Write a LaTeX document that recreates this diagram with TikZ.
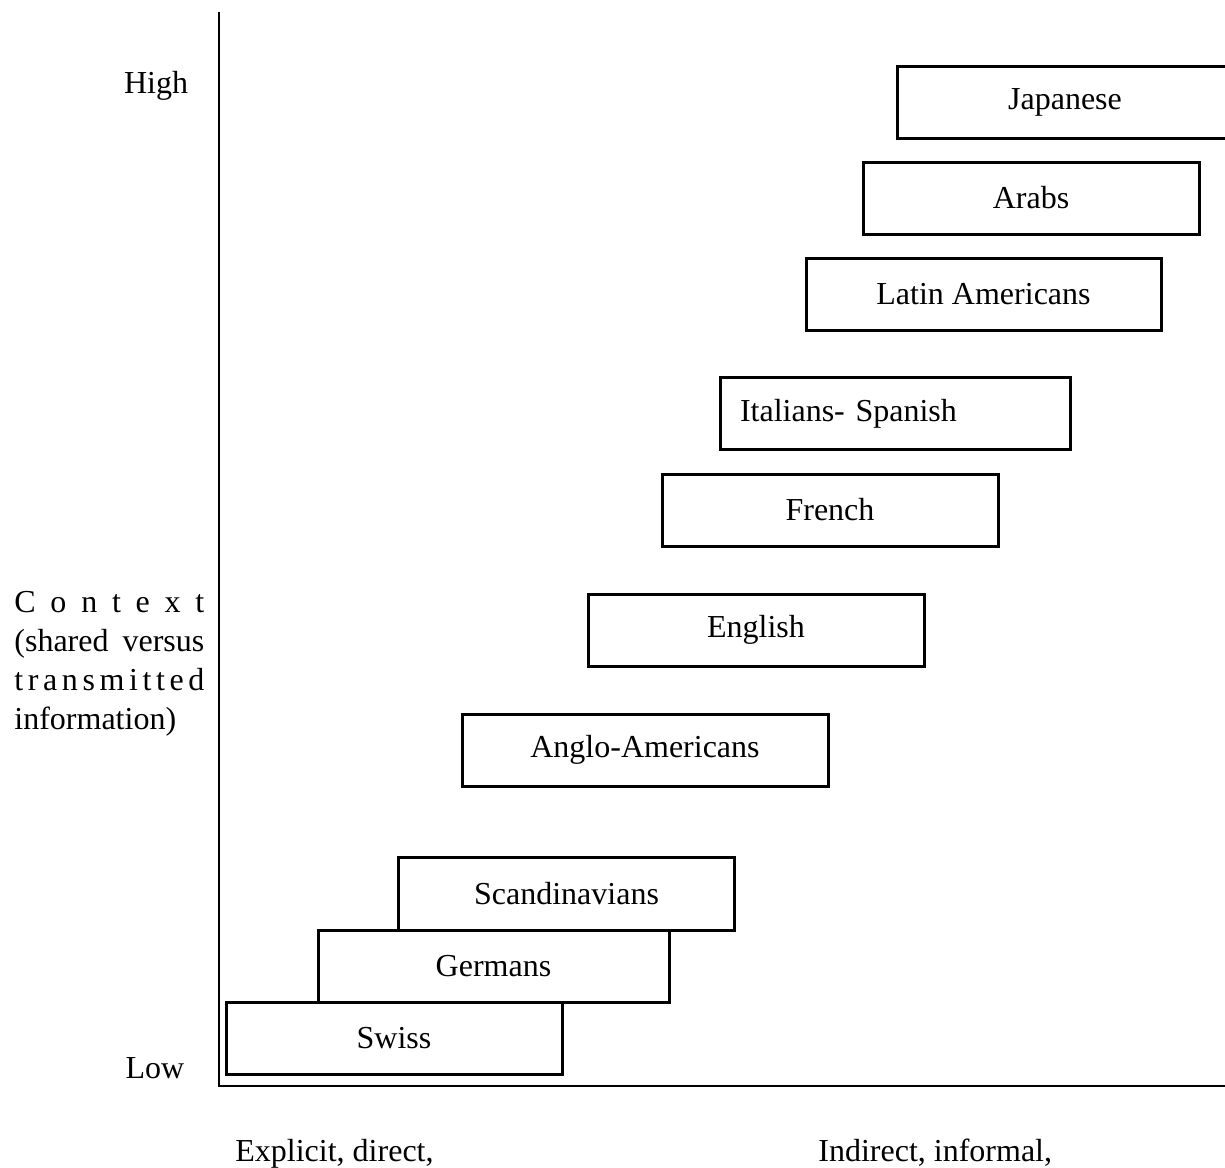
\documentclass[tikz,border=0pt]{standalone}
\usepackage{fontspec}
\setmainfont{Liberation Serif}
\begin{document}
\begin{tikzpicture}[x=0.5pt,y=-0.5pt,
  font=\fontsize{16}{19}\selectfont,
  box/.style={draw, line width=1.5pt, fill=white, inner sep=0pt,
    minimum width=168pt, minimum height=36pt},
  axisline/.style={line width=1pt},
  lbl/.style={inner sep=0pt, anchor=base},
  ctx/.style={inner sep=0pt, anchor=base west, font=\fontsize{16}{19}\selectfont}]
\useasboundingbox (0,0) rectangle (1225,1167);
% axes
\coordinate (top) at (219,12);
\coordinate (origin) at (219,1086);
\coordinate (xend) at (1225,1086);
\draw[axisline] (top) -- (origin) -- (xend);
% boxes (top to bottom)
\node[box] (jap) at (1065,102) {Japanese};
\node[box] (ara) at (1031,198) {Arabs};
\node[box, minimum width=177.5pt] (lat) at (983.5,294) {Latin Americans};
\node[box, minimum width=175pt, text width=155pt, align=left, inner xsep=10pt] (ita) at (895,413.5) {Italians- Spanish};
\node[box] (fre) at (830,510) {French};
\node[box] (eng) at (756,630) {English};
\node[box, minimum width=183pt] (ang) at (645,750) {Anglo-Americans};
\node[box, minimum height=36.5pt] (sca) at (566.5,893.5) {Scandinavians};
\node[box, minimum width=175.5pt] (ger) at (493.5,966) {Germans};
\node[box] (swi) at (394,1038.5) {Swiss};
% axis labels
\node[lbl] (high) at (156,93) {High};
\node[lbl] (low) at (155,1078) {Low};
\node[ctx] (c1) at (14,612) {\makebox[95pt]{C\hfill o\hfill n\hfill t\hfill e\hfill x\hfill t}};
\node[ctx] (c2) at (14,651) {\makebox[95pt]{(shared\hfill versus}};
\node[ctx] (c3) at (14,690) {\makebox[95pt]{t\hfill r\hfill a\hfill n\hfill s\hfill m\hfill i\hfill t\hfill t\hfill e\hfill d}};
\node[ctx] (c4) at (14,729) {information)};
\node[lbl, anchor=base west] (expl) at (235,1161) {Explicit, direct,};
\node[lbl, anchor=base west] (indi) at (818,1161) {Indirect, informal,};
\end{tikzpicture}
\end{document}
